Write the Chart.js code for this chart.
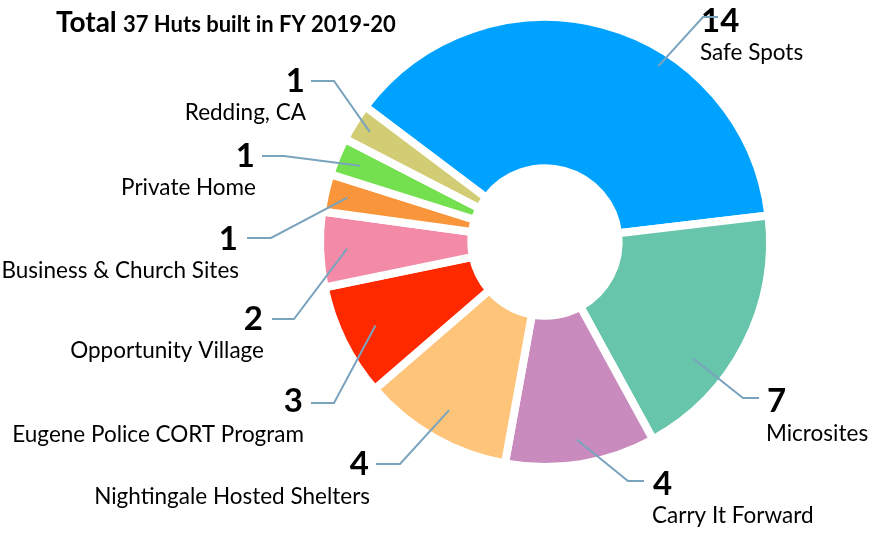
<!DOCTYPE html>
<html>
<head>
<meta charset="utf-8">
<script src="https://cdn.jsdelivr.net/npm/chart.js@4"></script>
<style>
  body { margin: 0; background: #fff; }
  canvas { display: block; }
</style>
</head>
<body>
<canvas id="huts" width="877" height="539"></canvas>
<script>
// --- data ---
const categories = ['Safe Spots', 'Microsites', 'Carry It Forward', 'Nightingale Hosted Shelters',
  'Eugene Police CORT Program', 'Opportunity Village', 'Business & Church Sites', 'Private Home', 'Redding, CA'];
const huts = [14, 7, 4, 4, 3, 2, 1, 1, 1];
const sliceColors = ['#00a2ff', '#66c5aa', '#c98bbd', '#fdc47a', '#ff2900', '#f38ba8', '#f9953a', '#75e04f', '#d2cc74'];
const titleBold = 'Total';
const titleRest = '37 Huts built in FY 2019-20';

// label placement: text anchor x, number baseline, text baseline, elbow line,
// and where on the slice the leader ends (fraction of the arc, fraction of radius)
const labelLayout = [
  { x: 700, align: 'left',  numY: 32,  txtY: 60,  line: [718, 703, 17],  t: 0.63, r: 0.93 },
  { x: 766, align: 'left',  numY: 412, txtY: 441, line: [759, 743, 398], t: 0.66, r: 0.84 },
  { x: 652, align: 'left',  numY: 495, txtY: 523, line: [644, 628, 481], t: 0.5,  r: 0.89 },
  { x: 370, align: 'right', numY: 475, txtY: 504, line: [376, 400, 464], t: 0.5,  r: 0.86 },
  { x: 304, align: 'right', numY: 412, txtY: 442, line: [311, 334, 403], t: 0.5,  r: 0.84 },
  { x: 264, align: 'right', numY: 330, txtY: 358, line: [272, 294, 319], t: 0.5,  r: 0.88 },
  { x: 239, align: 'right', numY: 250, txtY: 278, line: [247, 271, 238], t: 0.5,  r: 0.90 },
  { x: 256, align: 'right', numY: 167, txtY: 195, line: [262, 284, 156], t: 0.5,  r: 0.89 },
  { x: 306, align: 'right', numY: 92,  txtY: 120, line: [311, 334, 81],  t: 0.5,  r: 0.92 }
];

const labelsPlugin = {
  id: 'hutLabels',
  afterDatasetsDraw(chart) {
    const ctx = chart.ctx;
    const arcs = chart.getDatasetMeta(0).data;
    ctx.save();
    // title
    ctx.fillStyle = '#000';
    ctx.textBaseline = 'alphabetic';
    ctx.textAlign = 'left';
    ctx.font = 'bold 28px Lato';
    ctx.fillText(titleBold, 56, 32);
    ctx.font = 'bold 22px Lato';
    ctx.fillText(titleRest, 123, 32);

    labelLayout.forEach((L, i) => {
      ctx.textAlign = L.align;
      ctx.fillStyle = '#000';
      ctx.font = 'bold 33px Lato';
      ctx.fillText(String(huts[i]), L.x + (L.align === 'right' ? -1 : 1), L.numY);
      ctx.font = '22.5px Lato';
      ctx.fillText(categories[i], L.x, L.txtY);
    });

    ctx.strokeStyle = '#7aa3bd';
    ctx.lineWidth = 2;
    labelLayout.forEach((L, i) => {
      const a = arcs[i];
      const ang = a.startAngle + (a.endAngle - a.startAngle) * L.t;
      const rad = a.outerRadius * L.r;
      ctx.beginPath();
      ctx.moveTo(L.line[0], L.line[2]);
      ctx.lineTo(L.line[1], L.line[2]);
      ctx.lineTo(a.x + Math.cos(ang) * rad, a.y + Math.sin(ang) * rad);
      ctx.stroke();
    });
    ctx.restore();
  }
};

new Chart(document.getElementById('huts'), {
  type: 'doughnut',
  data: {
    labels: categories,
    datasets: [{
      data: huts,
      backgroundColor: sliceColors,
      borderColor: '#fff',
      borderWidth: 8,
      borderJoinStyle: 'miter',
      hoverOffset: 0
    }]
  },
  options: {
    responsive: false,
    animation: false,
    rotation: -53,
    radius: 225,
    cutout: 74,
    layout: { padding: { left: 315, right: 102, top: 12, bottom: 67 } },
    plugins: {
      legend: { display: false },
      tooltip: { enabled: false },
      title: { display: false }
    }
  },
  plugins: [labelsPlugin]
});
</script>
</body>
</html>
